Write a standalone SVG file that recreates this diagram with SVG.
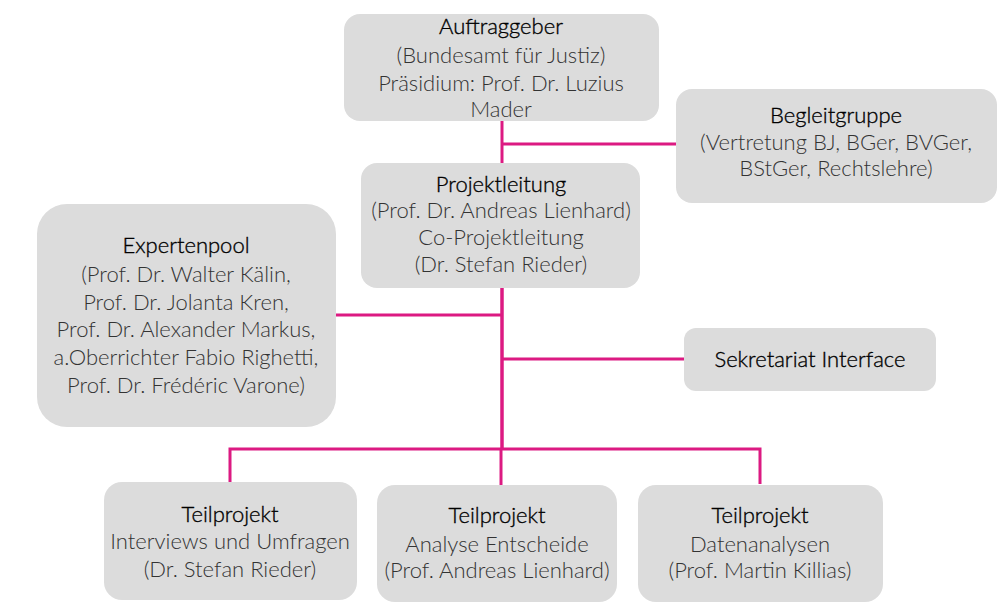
<svg xmlns="http://www.w3.org/2000/svg" width="998" height="607" viewBox="0 0 998 607">
<style>
.box{fill:#dcdcdc}
text{font-family:"Lato","Open Sans","DejaVu Sans",sans-serif;font-size:22px;font-weight:300;text-anchor:middle;fill:#333}
.t{fill:#000;stroke:#000;stroke-width:0.35}
.c{stroke:#dc1a82;stroke-width:3;fill:none}
</style>
<rect width="998" height="607" fill="#fff"/>
<g id="connectors">
<path class="c" d="M502 121V163"/>
<path class="c" d="M502 144H676"/>
<path class="c" d="M502 288V449" style="stroke-width:3.5"/>
<path class="c" d="M336 315H502"/>
<path class="c" d="M502 359H684"/>
<path class="c" d="M230 482V449H760V484"/>
<path class="c" d="M501 449V485"/>
</g>
<g id="auftraggeber">
<rect class="box" x="344" y="14" width="315" height="107" rx="16"/>
<text class="t" x="501" y="34">Auftraggeber</text>
<text x="501" y="63">(Bundesamt für Justiz)</text>
<text x="501" y="91">Präsidium: Prof. Dr. Luzius</text>
<text x="501" y="117">Mader</text>
</g>
<g id="begleitgruppe">
<rect class="box" x="676" y="89" width="321" height="114" rx="16"/>
<text class="t" x="836" y="123">Begleitgruppe</text>
<text x="836" y="150">(Vertretung BJ, BGer, BVGer,</text>
<text x="836" y="176">BStGer, Rechtslehre)</text>
</g>
<g id="projektleitung">
<rect class="box" x="361" y="163" width="279" height="125" rx="16"/>
<text class="t" x="501" y="192">Projektleitung</text>
<text x="501" y="218">(Prof. Dr. Andreas Lienhard)</text>
<text x="501" y="245">Co-Projektleitung</text>
<text x="501" y="272">(Dr. Stefan Rieder)</text>
</g>
<g id="expertenpool">
<rect class="box" x="37" y="204" width="299" height="223" rx="30"/>
<text class="t" x="186" y="253">Expertenpool</text>
<text x="186" y="282">(Prof. Dr. Walter Kälin,</text>
<text x="186" y="310">Prof. Dr. Jolanta Kren,</text>
<text x="186" y="337">Prof. Dr. Alexander Markus,</text>
<text x="186" y="365">a.Oberrichter Fabio Righetti,</text>
<text x="186" y="393">Prof. Dr. Frédéric Varone)</text>
</g>
<g id="sekretariat">
<rect class="box" x="684" y="328" width="252" height="63" rx="12"/>
<text class="t" x="810" y="367">Sekretariat Interface</text>
</g>
<g id="teilprojekt1">
<rect class="box" x="104" y="482" width="253" height="118" rx="18"/>
<text class="t" x="230" y="522">Teilprojekt</text>
<text x="230" y="549">Interviews und Umfragen</text>
<text x="230" y="577">(Dr. Stefan Rieder)</text>
</g>
<g id="teilprojekt2">
<rect class="box" x="377" y="485" width="240" height="117" rx="18"/>
<text class="t" x="497" y="523">Teilprojekt</text>
<text x="497" y="552">Analyse Entscheide</text>
<text x="497" y="578">(Prof. Andreas Lienhard)</text>
</g>
<g id="teilprojekt3">
<rect class="box" x="638" y="485" width="245" height="117" rx="18"/>
<text class="t" x="760" y="523">Teilprojekt</text>
<text x="760" y="552">Datenanalysen</text>
<text x="760" y="578">(Prof. Martin Killias)</text>
</g>
</svg>
